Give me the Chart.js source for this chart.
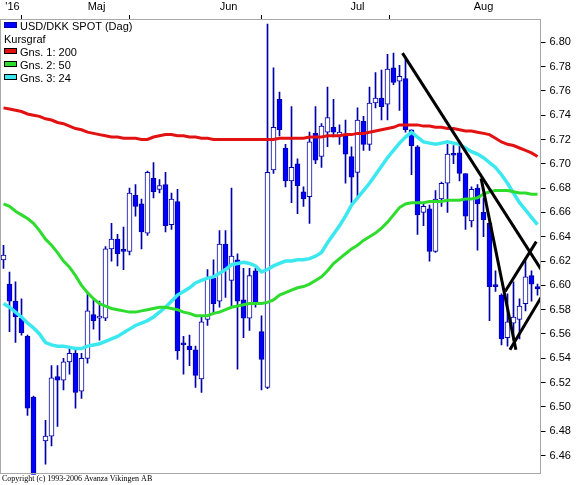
<!DOCTYPE html>
<html>
<head>
<meta charset="utf-8">
<title>USD/DKK SPOT (Dag)</title>
<script src="https://cdn.jsdelivr.net/npm/chart.js@4"></script>
<style>
  html, body { margin: 0; padding: 0; background: #fff; }
  #wrap { width: 576px; height: 485px; }
</style>
</head>
<body>
<div id="wrap"><canvas id="chart"></canvas></div>
<script>
// daily candles, 25 Apr - 26 Aug 2016 (index = trading day)
const opens = [6.621, 6.601, 6.587, 6.573, 6.558, 6.508, 6.430, 6.472, 6.476, 6.525,
  6.522, 6.537, 6.544, 6.513, 6.540, 6.576, 6.573, 6.573, 6.630, 6.638,
  6.629, 6.628, 6.674, 6.667, 6.643, 6.688, 6.679, 6.683, 6.650, 6.669,
  6.552, 6.550, 6.547, 6.523, 6.572, 6.606, 6.587, 6.634, 6.604, 6.621,
  6.588, 6.573, 6.612, 6.562, 6.516, 6.695, 6.753, 6.713, 6.686, 6.700,
  6.677, 6.673, 6.725, 6.706, 6.726, 6.730, 6.723, 6.723, 6.706, 6.693,
  6.735, 6.716, 6.750, 6.754, 6.749, 6.779, 6.768, 6.770, 6.728, 6.714,
  6.660, 6.663, 6.628, 6.671, 6.684, 6.708, 6.709, 6.692, 6.653, 6.680,
  6.660, 6.651, 6.600, 6.592, 6.557, 6.569, 6.572, 6.585, 6.608, 6.599];
const highs = [6.633, 6.611, 6.603, 6.589, 6.559, 6.509, 6.438, 6.489, 6.534, 6.534,
  6.540, 6.548, 6.547, 6.544, 6.593, 6.589, 6.587, 6.632, 6.651, 6.642,
  6.648, 6.680, 6.683, 6.671, 6.694, 6.701, 6.687, 6.693, 6.676, 6.679,
  6.558, 6.559, 6.550, 6.574, 6.613, 6.621, 6.645, 6.645, 6.680, 6.626,
  6.614, 6.614, 6.614, 6.575, 6.815, 6.779, 6.759, 6.716, 6.747, 6.704,
  6.681, 6.726, 6.747, 6.733, 6.763, 6.753, 6.732, 6.736, 6.714, 6.746,
  6.739, 6.763, 6.775, 6.777, 6.790, 6.791, 6.781, 6.786, 6.728, 6.715,
  6.668, 6.666, 6.678, 6.685, 6.716, 6.715, 6.715, 6.692, 6.681, 6.683,
  6.672, 6.652, 6.612, 6.593, 6.593, 6.603, 6.589, 6.622, 6.612, 6.601];
const lows = [6.614, 6.562, 6.553, 6.559, 6.493, 6.430, 6.405, 6.453, 6.468, 6.484,
  6.514, 6.527, 6.499, 6.507, 6.536, 6.564, 6.555, 6.571, 6.620, 6.616,
  6.613, 6.625, 6.657, 6.630, 6.641, 6.672, 6.676, 6.644, 6.646, 6.539,
  6.527, 6.534, 6.516, 6.512, 6.567, 6.577, 6.582, 6.590, 6.583, 6.531,
  6.557, 6.563, 6.582, 6.514, 6.515, 6.692, 6.723, 6.681, 6.668, 6.659,
  6.665, 6.651, 6.700, 6.697, 6.714, 6.722, 6.716, 6.684, 6.668, 6.671,
  6.711, 6.711, 6.746, 6.736, 6.736, 6.765, 6.744, 6.726, 6.691, 6.642,
  6.649, 6.620, 6.627, 6.665, 6.660, 6.700, 6.686, 6.646, 6.648, 6.629,
  6.640, 6.571, 6.595, 6.551, 6.550, 6.555, 6.556, 6.579, 6.587, 6.592];
const closes = [6.625, 6.587, 6.574, 6.561, 6.499, 6.438, 6.415, 6.476, 6.524, 6.522,
  6.537, 6.544, 6.512, 6.540, 6.579, 6.571, 6.574, 6.630, 6.638, 6.626,
  6.628, 6.676, 6.665, 6.644, 6.693, 6.677, 6.682, 6.649, 6.671, 6.546,
  6.551, 6.547, 6.526, 6.570, 6.606, 6.585, 6.634, 6.613, 6.624, 6.587,
  6.573, 6.608, 6.585, 6.539, 6.693, 6.730, 6.728, 6.686, 6.697, 6.682,
  6.671, 6.718, 6.703, 6.731, 6.738, 6.726, 6.726, 6.708, 6.689, 6.736,
  6.716, 6.750, 6.754, 6.747, 6.778, 6.767, 6.772, 6.728, 6.715, 6.658,
  6.665, 6.628, 6.671, 6.684, 6.708, 6.707, 6.692, 6.657, 6.679, 6.667,
  6.654, 6.599, 6.599, 6.556, 6.570, 6.574, 6.583, 6.607, 6.601, 6.597];

// moving averages (Gns. 1: 200, Gns. 2: 50, Gns. 3: 24)
const ma200 = [6.746, 6.745, 6.744, 6.743, 6.741, 6.740, 6.739, 6.737, 6.736, 6.734,
  6.733, 6.731, 6.729, 6.728, 6.726, 6.725, 6.724, 6.723, 6.722, 6.722,
  6.721, 6.721, 6.721, 6.720, 6.720, 6.722, 6.723, 6.724, 6.724, 6.723,
  6.723, 6.722, 6.722, 6.721, 6.721, 6.720, 6.720, 6.720, 6.720, 6.720,
  6.720, 6.720, 6.720, 6.720, 6.720, 6.720, 6.721, 6.721, 6.721, 6.721,
  6.721, 6.722, 6.722, 6.722, 6.723, 6.723, 6.723, 6.724, 6.724, 6.725,
  6.725, 6.726, 6.727, 6.728, 6.729, 6.730, 6.732, 6.732, 6.732, 6.732,
  6.731, 6.731, 6.730, 6.730, 6.729, 6.729, 6.728, 6.727, 6.727, 6.726,
  6.725, 6.724, 6.721, 6.718, 6.716, 6.715, 6.713, 6.711, 6.709, 6.706];
const ma50 = [6.667, 6.665, 6.661, 6.658, 6.655, 6.651, 6.645, 6.638, 6.633, 6.627,
  6.620, 6.615, 6.608, 6.600, 6.594, 6.589, 6.585, 6.583, 6.581, 6.580,
  6.579, 6.578, 6.578, 6.579, 6.580, 6.581, 6.582, 6.582, 6.581, 6.580,
  6.578, 6.577, 6.575, 6.575, 6.575, 6.577, 6.578, 6.580, 6.582, 6.583,
  6.584, 6.585, 6.585, 6.585, 6.586, 6.588, 6.592, 6.594, 6.596, 6.598,
  6.599, 6.601, 6.604, 6.607, 6.612, 6.618, 6.622, 6.626, 6.630, 6.633,
  6.637, 6.640, 6.643, 6.647, 6.652, 6.658, 6.664, 6.667, 6.668, 6.668,
  6.668, 6.669, 6.669, 6.669, 6.670, 6.670, 6.670, 6.671, 6.671, 6.672,
  6.675, 6.677, 6.678, 6.678, 6.678, 6.677, 6.676, 6.676, 6.675, 6.675];
const ma24 = [6.585, 6.582, 6.578, 6.574, 6.569, 6.565, 6.560, 6.553, 6.551, 6.550,
  6.550, 6.549, 6.548, 6.548, 6.550, 6.551, 6.552, 6.554, 6.556, 6.558,
  6.561, 6.564, 6.567, 6.569, 6.571, 6.574, 6.578, 6.582, 6.587, 6.592,
  6.595, 6.598, 6.602, 6.604, 6.606, 6.607, 6.610, 6.613, 6.617, 6.618,
  6.619, 6.618, 6.616, 6.611, 6.613, 6.616, 6.618, 6.620, 6.620, 6.621,
  6.621, 6.622, 6.624, 6.627, 6.635, 6.642, 6.649, 6.657, 6.666, 6.672,
  6.678, 6.684, 6.691, 6.698, 6.705, 6.711, 6.717, 6.722, 6.726, 6.722,
  6.718, 6.717, 6.716, 6.717, 6.718, 6.717, 6.716, 6.713, 6.710, 6.708,
  6.705, 6.701, 6.697, 6.691, 6.684, 6.676, 6.668, 6.662, 6.656, 6.650];

// hand-drawn trend lines: [day, price] start and end
const trendStart = [[66.5, 6.791], [79.6, 6.688], [83.6, 6.595], [84.4, 6.547]];
const trendEnd = [[89.6, 6.613], [85.4, 6.547], [88.8, 6.636], [89.6, 6.590]];

// axis ticks
const monthEdges = [4.5, 26.5, 48.5, 69.5];
const monthLabelPos = [1.5, 15.5, 37.5, 59, 80];
const monthLabels = ["'16", 'Maj', 'Jun', 'Jul', 'Aug'];
const yTicks = [6.46, 6.48, 6.50, 6.52, 6.54, 6.56, 6.58, 6.60, 6.62, 6.64,
  6.66, 6.68, 6.70, 6.72, 6.74, 6.76, 6.78, 6.80];

const legendLabels = ['USD/DKK SPOT (Dag)', 'Kursgraf', 'Gns. 1: 200', 'Gns. 2: 50', 'Gns. 3: 24'];

const BLUE = '#0000ff';
const NAVY = '#0000a8';
const RED = '#e31212';
const GREEN = '#2edc2e';
const CYAN = '#3ce8f0';
const legendColors = [BLUE, null, RED, GREEN, CYAN];
const FONT = { family: '"Liberation Sans", Arial, sans-serif', size: 11 };

const wickData = highs.map((h, i) => ({ x: i, y: [lows[i], h] }));
const bodyData = opens.map((o, i) => ({ x: i, y: [o, closes[i]] }));
const bodyFill = opens.map((o, i) => closes[i] >= o ? '#ffffff' : BLUE);
const toPoints = arr => arr.map((v, i) => ({ x: i, y: v }));

const frameAndText = {
  id: 'frameAndText',
  afterDatasetsDraw(chart) {
    const ctx = chart.ctx;
    const a = chart.chartArea;
    ctx.save();
    // grey frame round the plot
    ctx.strokeStyle = '#a8a8a8';
    ctx.lineWidth = 1;
    ctx.strokeRect(Math.floor(a.left) + 0.5, Math.floor(a.top) + 0.5,
      Math.round(a.right - a.left), Math.round(a.bottom - a.top) - 1);

    // legend
    ctx.font = '11px "Liberation Sans", Arial, sans-serif';
    ctx.textBaseline = 'alphabetic';
    ctx.fillStyle = '#000';
    legendLabels.forEach((txt, k) => {
      const base = 30 + 13 * k;
      if (legendColors[k]) {
        ctx.fillStyle = legendColors[k];
        ctx.fillRect(4, base - 8, 13, 6);
        ctx.strokeStyle = k === 0 ? NAVY : '#000';
        ctx.strokeRect(4.5, base - 7.5, 12, 5);
        ctx.fillStyle = '#000';
        ctx.fillText(txt, 20, base);
      } else {
        ctx.fillText(txt, 4, base);
      }
    });

    // copyright
    ctx.font = '8px "Liberation Serif", "Times New Roman", serif';
    ctx.fillText('Copyright (c) 1993-2006 Avanza Vikingen AB', 2, 481);
    ctx.restore();
  }
};

const datasets = [
  {
    type: 'bar', data: bodyData, order: 4, barThickness: 5, minBarLength: 2,
    backgroundColor: bodyFill, borderColor: NAVY, borderWidth: 1, borderSkipped: false, clip: 0
  },
  {
    type: 'bar', data: wickData, order: 5, barThickness: 1,
    backgroundColor: NAVY, borderWidth: 0, clip: 0
  },
  { type: 'line', data: toPoints(ma200), order: 3, borderColor: RED, borderWidth: 3, pointRadius: 0, clip: 0 },
  { type: 'line', data: toPoints(ma50), order: 3, borderColor: GREEN, borderWidth: 3, pointRadius: 0, clip: 0 },
  { type: 'line', data: toPoints(ma24), order: 3, borderColor: CYAN, borderWidth: 3.5, pointRadius: 0, clip: 0 }
];
trendStart.forEach((s, k) => {
  datasets.push({
    type: 'line', order: 1, clip: 0,
    data: [{ x: s[0], y: s[1] }, { x: trendEnd[k][0], y: trendEnd[k][1] }],
    borderColor: '#000', borderWidth: 3, pointRadius: 0
  });
});

new Chart(document.getElementById('chart'), {
  type: 'bar',
  data: { datasets: datasets },
  plugins: [frameAndText],
  options: {
    responsive: true,
    maintainAspectRatio: false,
    animation: false,
    events: [],
    layout: { padding: { left: 0.5, right: 0, top: 0, bottom: 1 } },
    datasets: { bar: { grouped: false } },
    plugins: { legend: { display: false }, tooltip: { enabled: false } },
    scales: {
      x: {
        type: 'linear', position: 'top', min: -0.5, max: 89.5, offset: false,
        afterBuildTicks: s => {
          s.ticks = monthEdges.concat(monthLabelPos).sort((a, b) => a - b).map(v => ({ value: v }));
        },
        afterFit: s => { s.height = 19; },
        ticks: {
          autoSkip: false, maxRotation: 0, padding: 1, color: '#000', font: FONT,
          callback: v => {
            const k = monthLabelPos.indexOf(v);
            return k < 0 ? '' : monthLabels[k];
          }
        },
        grid: {
          drawOnChartArea: false, tickLength: 4,
          tickColor: c => (c.tick && monthEdges.includes(c.tick.value)) ? '#000' : 'rgba(0,0,0,0)'
        },
        border: { display: false }
      },
      y: {
        position: 'right', min: 6.4445, max: 6.8191,
        afterBuildTicks: s => { s.ticks = yTicks.map(v => ({ value: v })); },
        afterFit: s => { s.width = 35.5; },
        ticks: { color: '#000', font: FONT, padding: 4, callback: v => v.toFixed(2) },
        grid: { drawOnChartArea: false, tickLength: 5, tickColor: '#000' },
        border: { display: false }
      }
    }
  }
});
</script>
</body>
</html>
